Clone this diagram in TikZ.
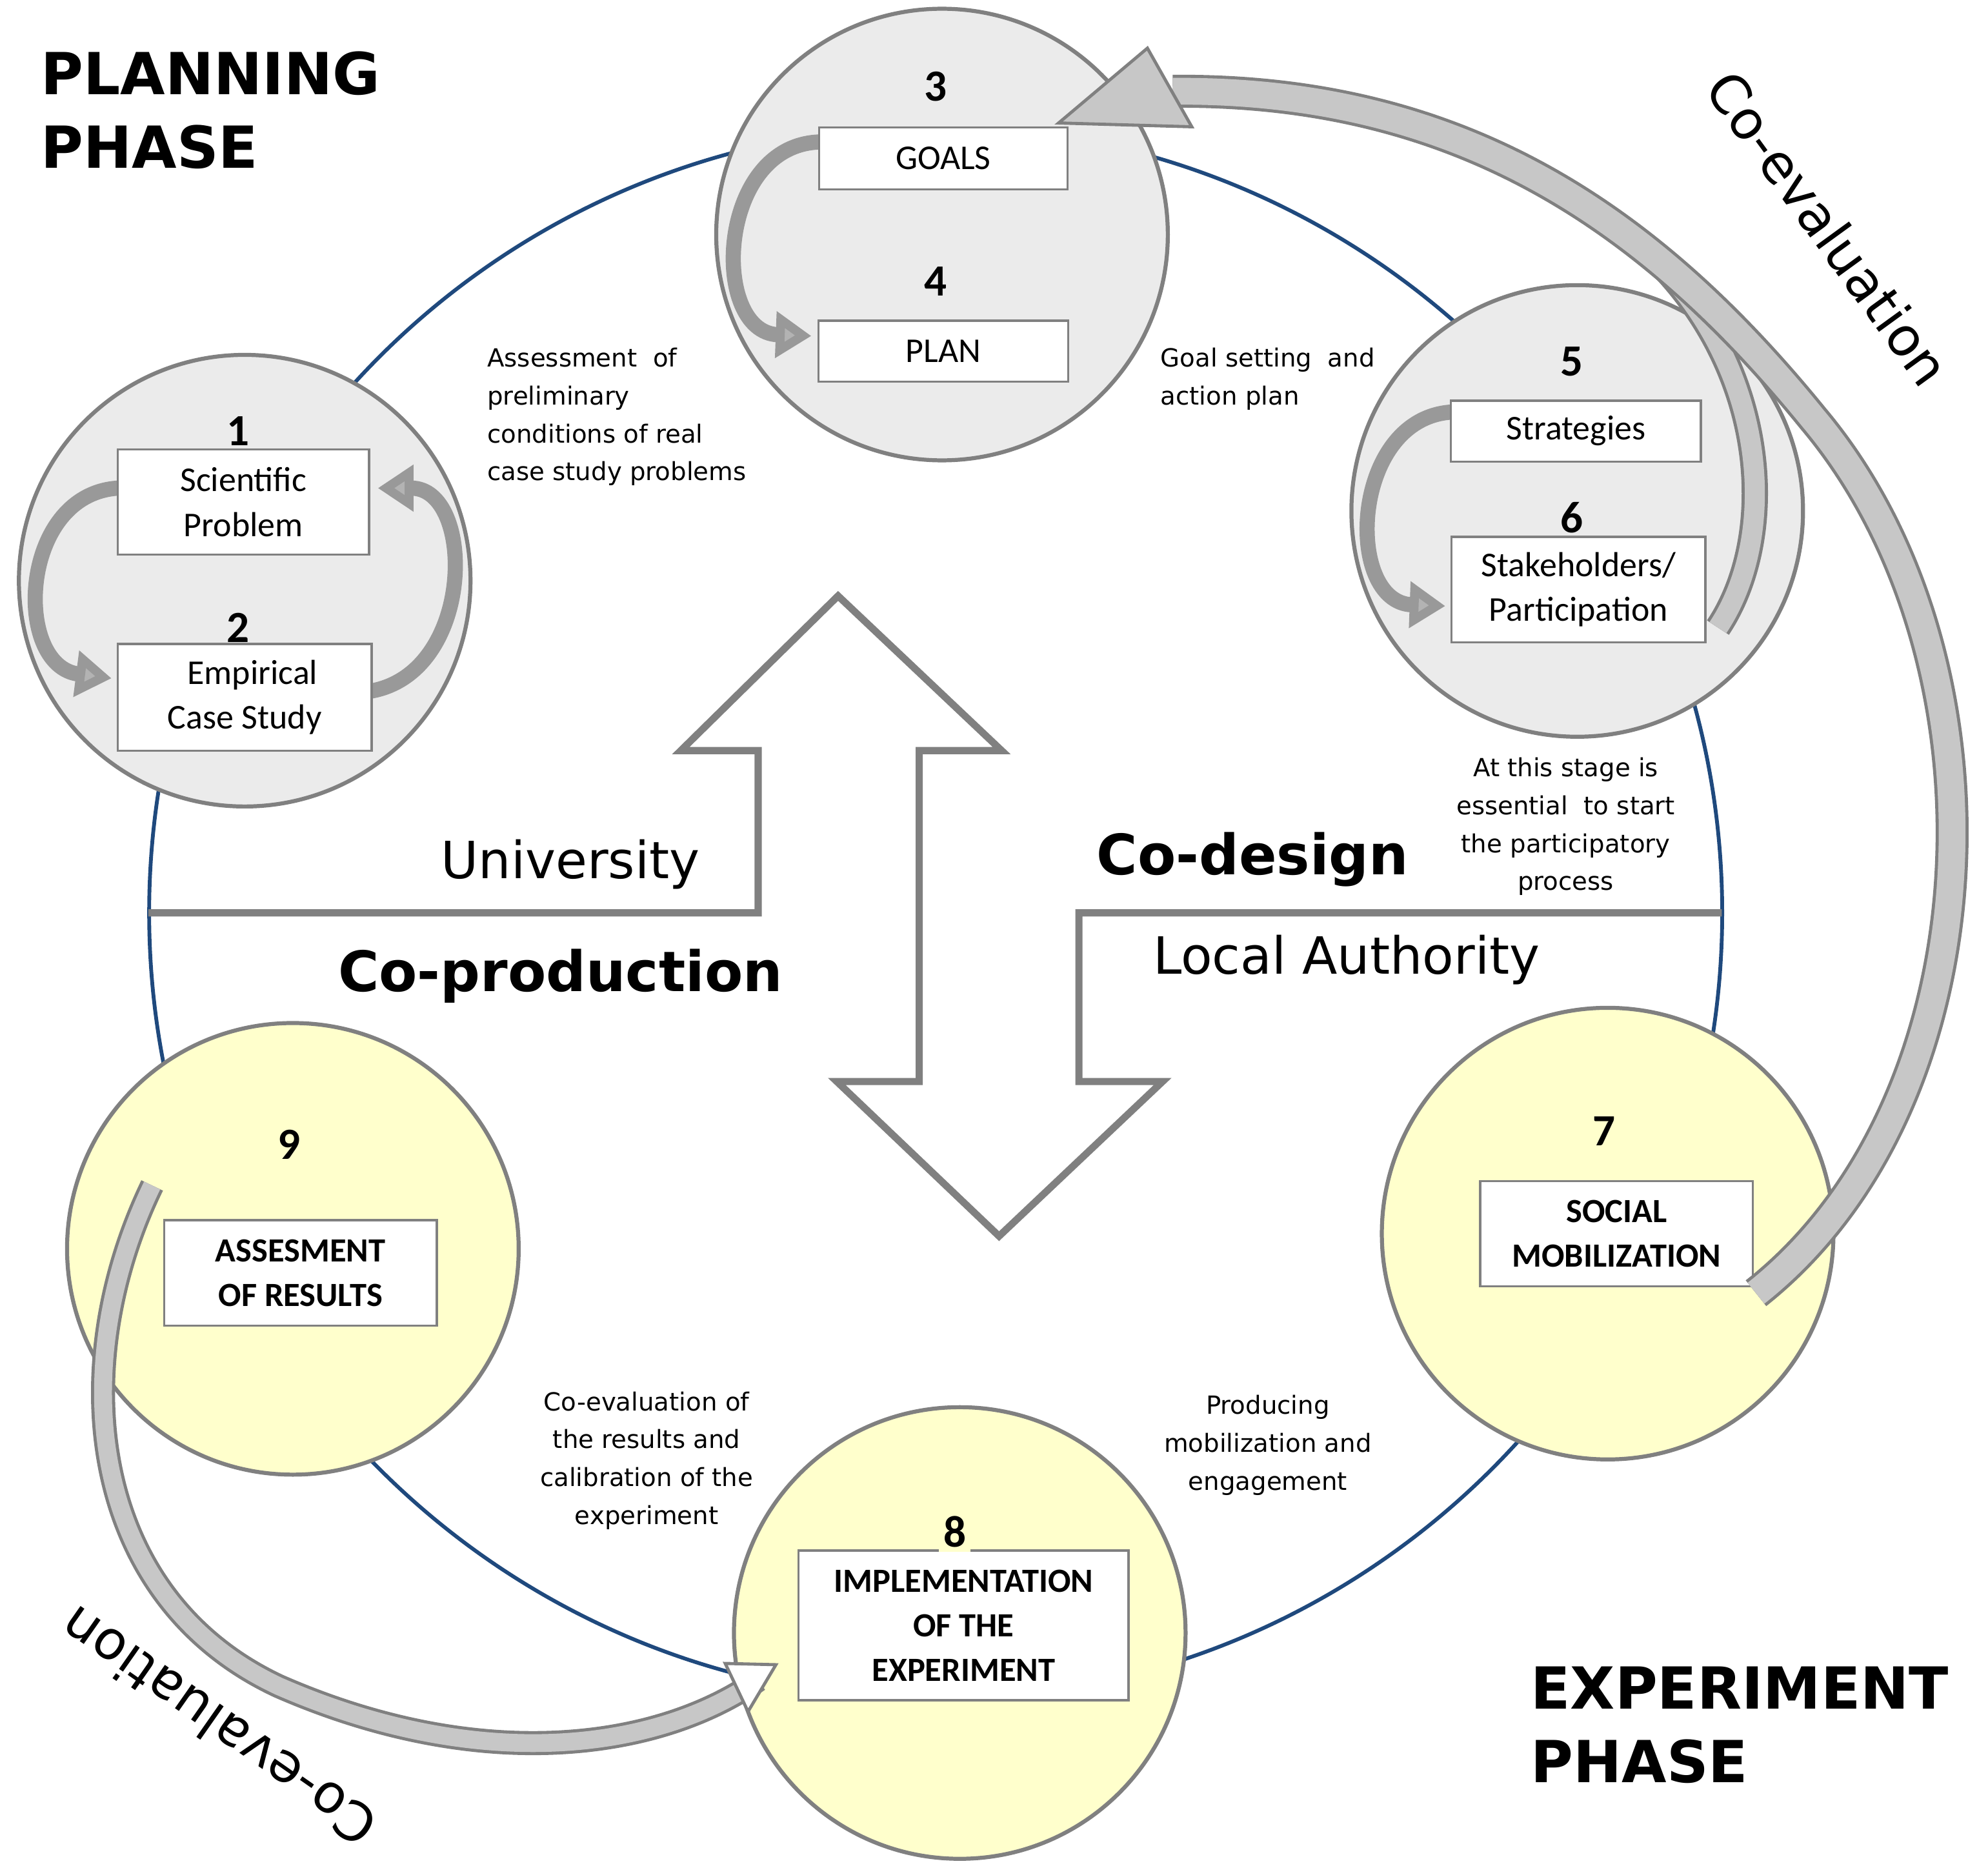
\documentclass[tikz,border=0pt]{standalone}
\usepackage{fontspec}
\setmainfont{Carlito}
\newfontfamily\comic{DejaVu Sans}
\usetikzlibrary{arrows.meta}
\definecolor{ring}{RGB}{31,73,125}
\definecolor{cgray}{RGB}{235,235,235}
\definecolor{cyel}{RGB}{255,255,204}
\definecolor{bord}{RGB}{128,128,128}
\begin{document}
\begin{tikzpicture}[x=0.01cm,y=-0.01cm,
  bub/.style={circle,draw=bord,line width=0.9pt,minimum size=3.56cm,inner sep=0pt},
  gb/.style={bub,fill=cgray},
  yb/.style={bub,fill=cyel},
  box/.style={draw=bord,fill=white,line width=0.5pt,align=center,font=\fontsize{7.8pt}{10pt}\selectfont},
  bbox/.style={box,font=\fontsize{7.6pt}{10pt}\selectfont\bfseries},
  num/.style={font=\fontsize{10pt}{12pt}\selectfont\bfseries},
  lab/.style={font=\comic\fontsize{5.6pt}{8.5pt}\selectfont,align=center},
  sarr/.style={line width=3.4pt,draw=bord!80,-{Triangle[length=8pt,width=10pt,fill=bord!60]}},
  band/.style={draw=bord,double=black!22,double distance=4.5pt,line width=0.7pt}]
\useasboundingbox (0,0) rectangle (1568,1473);
% big ring
\node[circle,draw=ring,line width=0.85pt,minimum size=12.4cm,inner sep=0pt] (ring) at (738,720) {};
% double arrow outline
\coordinate (L) at (117,720); \coordinate (R) at (1358,720);
\draw[bord,line width=1.6pt,line join=miter] (L) -- (598,720) -- (598,592) -- (537,592) -- (661,470) -- (790,592) -- (725,592) -- (725,853) -- (660,853) -- (788,975) -- (917,853) -- (851,853) -- (851,720) -- (R);
% bubbles
\node[gb] (c12) at (193,458) {};
\node[gb] (c34) at (743,185) {};
\node[gb] (c56) at (1244,403) {};
\node[yb] (c7) at (1268,973) {};
\node[yb] (c8) at (757,1288) {};
\node[yb] (c9) at (231,985) {};
% small arrows
\draw[sarr] (93,385) .. controls (15,390) and (10,525) .. (88,535);
\draw[sarr] (293,545) .. controls (375,530) and (375,385) .. (298,385);
\draw[sarr] (646,112) .. controls (565,115) and (560,262) .. (640,265);
\draw[sarr] (1145,325) .. controls (1065,330) and (1060,475) .. (1140,478);
% boxes
\node[box,minimum width=1.98cm,minimum height=0.83cm] (b1) at (192,396) {Scientific\\Problem};
\node[box,minimum width=2.0cm,minimum height=0.84cm] (b2) at (193,550) {\ \ Empirical\\Case Study};
\node[box,minimum width=1.96cm,minimum height=0.49cm] (b3) at (744,125) {GOALS};
\node[box,minimum width=1.97cm,minimum height=0.48cm] (b4) at (744,277) {PLAN};
\node[box,minimum width=1.97cm,minimum height=0.48cm] (b5) at (1243,340) {Strategies};
\node[box,minimum width=2.0cm,minimum height=0.83cm] (b6) at (1245,465) {Stakeholders/\\Participation};
\node[bbox,minimum width=2.15cm,minimum height=0.83cm] (b7) at (1275,973) {SOCIAL\\MOBILIZATION};
\node[bbox,minimum width=2.6cm,minimum height=1.18cm] (b8) at (760,1282) {IMPLEMENTATION\\OF THE\\EXPERIMENT};
\node[bbox,minimum width=2.15cm,minimum height=0.83cm] (b9) at (237,1004) {ASSESMENT\\OF RESULTS};
% numbers
\node[num] (n1) at (188,340) {1};
\node[num] (n2) at (188,495) {2};
\node[num] (n3) at (738,68) {3};
\node[num] (n4) at (738,222) {4};
\node[num] (n5) at (1240,285) {5};
\node[num] (n6) at (1240,408) {6};
\node[num] (n7) at (1265,892) {7};
\node[num,fill=cyel,inner sep=1pt] (n8) at (753,1208) {8};
\node[num] (n9) at (228,903) {9};
% co-evaluation arrows
\draw[band] (1355,495) .. controls (1405,420) and (1395,280) .. (1290,190);
\draw[band,double distance=6pt] (1385,1020) .. controls (1575,870) and (1590,520) .. (1430,330) .. controls (1300,170) and (1150,70) .. (925,72);
\fill[black!22,draw=bord,line width=0.7pt] (835,97) -- (905,38) -- (940,100) -- cycle;
\coordinate (ce) at (598,1325);
\draw[band,double distance=4pt] (120,935) .. controls (50,1080) and (70,1260) .. (220,1330) .. controls (380,1400) and (520,1380) .. (ce);
\fill[white,draw=bord,line width=0.7pt] (612,1313) -- (572,1312) -- (590,1350) -- cycle;
% labels
\node[lab,align=left,anchor=north west] (t1) at (372,262) {Assessment\ \ of\\preliminary\\conditions of real\\case study problems};
\node[lab,align=left,anchor=north west] (t2) at (903,262) {Goal setting\ \ and\\action plan};
\node[lab] (t3) at (1235,652) {At this stage is\\essential\ \ to start\\the participatory\\process};
\node[lab] (t4) at (1000,1140) {Producing\\mobilization and\\engagement};
\node[lab] (t5) at (510,1152) {Co-evaluation of\\the results and\\calibration of the\\experiment};
\node[font=\comic\fontsize{11.5pt}{14pt}\selectfont] (univ) at (450,682) {University};
\node[font=\comic\fontsize{12.5pt}{14pt}\selectfont\bfseries] (coprod) at (442,770) {Co-production};
\node[font=\comic\fontsize{12.5pt}{14pt}\selectfont\bfseries] (codes) at (988,678) {Co-design};
\node[font=\comic\fontsize{11.5pt}{14pt}\selectfont] (local) at (1062,757) {Local Authority};
\node[font=\comic\fontsize{13pt}{16.5pt}\selectfont\bfseries,align=left,anchor=north west] (pp) at (20,28) {PLANNING\\PHASE};
\node[font=\comic\fontsize{13pt}{16.5pt}\selectfont\bfseries,align=left,anchor=north west] (ep) at (1195,1302) {EXPERIMENT\\PHASE};
\node[font=\comic\fontsize{12pt}{15pt}\selectfont,rotate=-54] (ce1) at (1442,180) {Co-evaluation};
\node[font=\comic\fontsize{12pt}{15pt}\selectfont,rotate=145] (ce2) at (172,1362) {Co-evaluation};
\end{tikzpicture}
\end{document}
